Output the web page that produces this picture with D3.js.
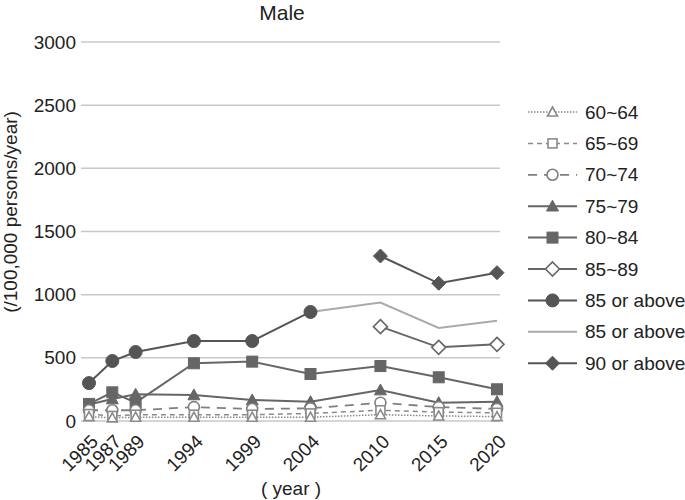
<!DOCTYPE html>
<html><head><meta charset="utf-8">
<script src="https://cdn.jsdelivr.net/npm/d3@7"></script>
<style>body{margin:0;background:#fff}svg{font-family:"Liberation Sans",Arial,sans-serif}</style>
</head><body>
<script>
const years = [1985, 1987, 1989, 1994, 1999, 2004, 2010, 2015, 2020];
const yTicks = [0, 500, 1000, 1500, 2000, 2500, 3000];
const s60_64 = [35, 25, 30, 30, 30, 30, 50, 40, 35];
const s65_69 = [55, 40, 50, 50, 50, 60, 85, 70, 65];
const s70_74 = [85, 85, 85, 110, 95, 100, 145, 110, 95];
const s75_79 = [130, 174, 211, 206, 166, 153, 245, 145, 153];
const s80_84 = [135, 227, 145, 457, 470, 372, 435, 346, 251];
const s85_89 = [null, null, null, null, null, null, 747, 583, 607];
const s85plusA = [300, 475, 546, 633, 633, 863, null, null, null];
const s85plusB = [null, null, null, null, null, 863, 937, 736, 794];
const s90plus = [null, null, null, null, null, null, 1306, 1090, 1174];
const seriesNames = ["60~64","65~69","70~74","75~79","80~84","85~89","85 or above","85 or above","90 or above"];

const series = [
  {name: seriesNames[0], v: s60_64, color: "#8a8a8a", dash: "1.5,1.5", w: 1.5, marker: "triangle", fill: "#fff", size: 5},
  {name: seriesNames[1], v: s65_69, color: "#8a8a8a", dash: "5,4", w: 1.5, marker: "square", fill: "#fff", size: 4.5},
  {name: seriesNames[2], v: s70_74, color: "#7f7f7f", dash: "9,7", w: 1.8, marker: "circle", fill: "#fff", size: 5.5},
  {name: seriesNames[3], v: s75_79, color: "#666666", dash: null, w: 2, marker: "triangle", fill: "#666666", size: 6},
  {name: seriesNames[4], v: s80_84, color: "#666666", dash: null, w: 2, marker: "square", fill: "#666666", size: 5.5},
  {name: seriesNames[5], v: s85_89, color: "#666666", dash: null, w: 2, marker: "diamond", fill: "#fff", size: 7},
  {name: seriesNames[6], v: s85plusA, color: "#555555", dash: null, w: 2, marker: "circle", fill: "#555555", size: 6.5},
  {name: seriesNames[7], v: s85plusB, color: "#aaaaaa", dash: null, w: 2, marker: null},
  {name: seriesNames[8], v: s90plus, color: "#555555", dash: null, w: 2, marker: "diamond", fill: "#555555", size: 7}
];

const FONT = "Liberation Sans, Arial, sans-serif";
const W = 685, H = 500;
const svg = d3.select("body").append("svg").attr("width", W).attr("height", H);
const x = d3.scaleLinear().domain([1985, 2020]).range([89, 497]);
const y = d3.scaleLinear().domain([0, 3000]).range([421, 42]);

// gridlines
svg.append("g").selectAll("line").data(yTicks).join("line")
  .attr("x1", 81).attr("x2", 500)
  .attr("y1", d => y(d)).attr("y2", d => y(d))
  .attr("stroke", "#c8c8c8").attr("stroke-width", 1.5);

// y axis labels
const yAxis = d3.axisLeft(y).tickValues(yTicks).tickFormat(d3.format("d")).tickSize(0).tickPadding(5);
const gy = svg.append("g").attr("transform", "translate(81,0)").call(yAxis);
gy.select(".domain").remove();
gy.attr("font-size", null).attr("font-family", null);
gy.selectAll("text").attr("font-size", 19).attr("fill", "#222").attr("font-family", FONT);

// x axis labels
const xAxis = d3.axisBottom(x).tickValues(years).tickFormat(d3.format("d")).tickSize(0).tickPadding(0);
const gx = svg.append("g").attr("transform", "translate(0,421)").call(xAxis);
gx.select(".domain").remove();
gx.attr("font-size", null).attr("font-family", null);
gx.selectAll("text").attr("font-size", 19).attr("fill", "#222")
  .attr("font-family", FONT)
  .attr("text-anchor", "end").attr("x", 0).attr("y", 0).attr("dy", "0.35em")
  .attr("transform", "translate(5,17) rotate(-45)");

// titles
svg.append("text").attr("x", 282).attr("y", 20).attr("text-anchor", "middle")
  .attr("font-size", 21).attr("font-family", FONT).attr("fill", "#222").text("Male");
svg.append("text").attr("x", 291).attr("y", 495).attr("text-anchor", "middle")
  .attr("font-size", 19).attr("font-family", FONT).attr("fill", "#222").text("( year )");
svg.append("text").attr("transform", "translate(17,212) rotate(-90)").attr("text-anchor", "middle")
  .attr("font-size", 19).attr("font-family", FONT).attr("fill", "#222").text("(/100,000 persons/year)");

function drawMarker(g, type, cx, cy, s, color, fill) {
  let el;
  if (type === "circle") {
    el = g.append("circle").attr("cx", cx).attr("cy", cy).attr("r", s);
  } else if (type === "square") {
    el = g.append("rect").attr("x", cx - s).attr("y", cy - s).attr("width", 2 * s).attr("height", 2 * s);
  } else if (type === "triangle") {
    el = g.append("path").attr("d", `M${cx},${cy - s}L${cx + s},${cy + s * 0.8}L${cx - s},${cy + s * 0.8}Z`);
  } else if (type === "diamond") {
    el = g.append("path").attr("d", `M${cx},${cy - s}L${cx + s},${cy}L${cx},${cy + s}L${cx - s},${cy}Z`);
  }
  if (el) el.attr("fill", fill).attr("stroke", color).attr("stroke-width", fill === "#fff" ? 1.6 : 1);
}

const line = d3.line().defined(d => d.v != null).x(d => x(d.year)).y(d => y(d.v));
const plot = svg.append("g");
series.forEach(s => {
  const pts = years.map((yr, i) => ({year: yr, v: s.v[i]}));
  plot.append("path").datum(pts).attr("d", line).attr("fill", "none")
    .attr("stroke", s.color).attr("stroke-width", s.w)
    .attr("stroke-dasharray", s.dash);
});
series.slice().reverse().forEach(s => {
  if (!s.marker) return;
  const g = plot.append("g");
  years.forEach((yr, i) => {
    if (s.v[i] == null) return;
    drawMarker(g, s.marker, x(yr), y(s.v[i]), s.size, s.color, s.fill);
  });
});

// legend
const leg = svg.append("g");
series.forEach((s, i) => {
  const cy = 112 + i * 31.4;
  const g = leg.append("g");
  g.append("line").attr("x1", 528).attr("x2", 577).attr("y1", cy).attr("y2", cy)
    .attr("stroke", s.color).attr("stroke-width", s.w).attr("stroke-dasharray", s.dash);
  if (s.marker) drawMarker(g, s.marker, 552.5, cy, s.size, s.color, s.fill);
  g.append("text").attr("x", 585).attr("y", cy).attr("dy", "0.35em")
    .attr("font-size", 19).attr("font-family", FONT).attr("fill", "#222").text(s.name);
});
</script>
</body></html>
